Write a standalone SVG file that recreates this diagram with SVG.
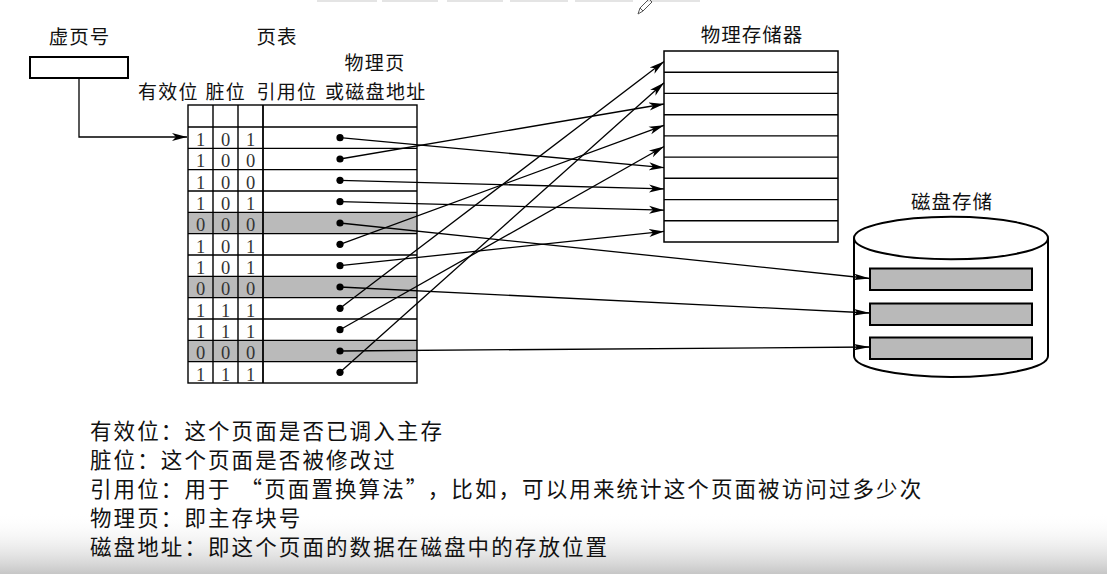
<svg xmlns="http://www.w3.org/2000/svg" width="1107" height="574" viewBox="0 0 1107 574">
<defs>
<style>
.cjk{font-family:"Noto Sans CJK SC","Noto Sans",sans-serif;fill:#111;}
.lbl{font-size:19.5px;letter-spacing:1px;}
.hdr{font-size:19px;letter-spacing:1.3px;}
.leg{font-size:21.5px;letter-spacing:2.1px;}
.dig{font-family:"Liberation Serif",serif;font-size:18.5px;fill:#333;text-anchor:middle;}
.ln{stroke:#000;stroke-width:1.4;fill:none;}
.con{stroke:#000;stroke-width:1.3;fill:none;}
.grey{fill:#bababa;}
.dot{fill:#000;}
</style>
<marker id="ah" markerUnits="userSpaceOnUse" markerWidth="16" markerHeight="10" refX="15" refY="5" orient="auto">
<path d="M0,1 L15,5 L0,9 L4,5 Z" fill="#000"/>
</marker>
<marker id="ahd" markerUnits="userSpaceOnUse" markerWidth="17" markerHeight="10" refX="16" refY="5" orient="auto">
<path d="M0,1.8 L16,5 L0,8.2 L3,5 Z" fill="#000"/>
</marker>
<linearGradient id="fade" x1="0" y1="0" x2="0" y2="1">
<stop offset="0" stop-color="#ffffff" stop-opacity="0"/>
<stop offset="1" stop-color="#c6c6c6" stop-opacity="1"/>
</linearGradient>
</defs>
<rect x="0" y="0" width="1107" height="574" fill="#fff"/>
<rect x="0" y="512" width="1107" height="62" fill="url(#fade)"/>
<g id="toolbar" fill="#e4e4e4">
<rect x="317" y="0" width="60" height="2"/>
<rect x="382" y="0" width="56" height="2"/>
<rect x="447" y="0" width="56" height="2"/>
<rect x="510" y="0" width="58" height="2"/>
<rect x="575" y="0" width="58" height="2"/>
<rect x="647" y="0" width="53" height="2"/>
<path d="M638,14 L640,8 L649,-1 L652,2 L643,11 Z M640,8 L643,11" fill="none" stroke="#555" stroke-width="1"/>
</g>
<g id="virtual-page">
<text class="cjk lbl" x="79.5" y="44" text-anchor="middle">虚页号</text>
<rect x="30" y="57" width="98" height="21" fill="#fff" stroke="#000" stroke-width="2"/>
</g>
<g id="page-table">
<text class="cjk lbl" x="277" y="44" text-anchor="middle">页表</text>
<text class="cjk hdr" x="375" y="70" text-anchor="middle">物理页</text>
<text class="cjk hdr" x="138" y="98.5">有效位</text>
<text class="cjk hdr" x="205.5" y="98.5">脏位</text>
<text class="cjk hdr" x="256.5" y="98.5">引用位</text>
<text class="cjk hdr" x="325" y="98.5">或磁盘地址</text>
<rect class="grey" x="188" y="212.33" width="229" height="21.33"/>
<rect class="grey" x="188" y="276.33" width="229" height="21.33"/>
<rect class="grey" x="188" y="340.33" width="229" height="21.33"/>
<rect class="ln" x="188" y="105" width="229" height="278"/>
<path class="ln" d="M188,127H417 M188,148.33H417 M188,169.67H417 M188,191H417 M188,212.33H417 M188,233.67H417 M188,255H417 M188,276.33H417 M188,297.67H417 M188,319H417 M188,340.33H417 M188,361.67H417 M213,105V383 M238,105V383"/>
<path d="M263,105V383" stroke="#000" stroke-width="1.8"/>
<text class="dig" x="200.5 225.5 250.5" y="146">101</text>
<text class="dig" x="200.5 225.5 250.5" y="167.3">100</text>
<text class="dig" x="200.5 225.5 250.5" y="188.7">100</text>
<text class="dig" x="200.5 225.5 250.5" y="210">101</text>
<text class="dig" x="200.5 225.5 250.5" y="231.3">000</text>
<text class="dig" x="200.5 225.5 250.5" y="252.7">101</text>
<text class="dig" x="200.5 225.5 250.5" y="274">101</text>
<text class="dig" x="200.5 225.5 250.5" y="295.3">000</text>
<text class="dig" x="200.5 225.5 250.5" y="316.7">111</text>
<text class="dig" x="200.5 225.5 250.5" y="338">111</text>
<text class="dig" x="200.5 225.5 250.5" y="359.3">000</text>
<text class="dig" x="200.5 225.5 250.5" y="380.7">111</text>
</g>
<g id="physical-memory">
<text class="cjk lbl" x="752" y="42" text-anchor="middle">物理存储器</text>
<rect x="664" y="51" width="174" height="191" fill="#fff" stroke="#000" stroke-width="1.5"/>
<path class="ln" d="M664,72.2H838 M664,93.4H838 M664,114.7H838 M664,135.9H838 M664,157.1H838 M664,178.3H838 M664,199.6H838 M664,220.8H838"/>
</g>
<g id="disk">
<text class="cjk lbl" x="952" y="209" text-anchor="middle">磁盘存储</text>
<path d="M854,238 V356 A97,21 0 0 0 1048,356 V238" fill="#fff" stroke="#000" stroke-width="2"/>
<ellipse cx="951" cy="238" rx="97" ry="21.3" fill="#fff" stroke="#000" stroke-width="2"/>
<rect x="870" y="268.5" width="162" height="21.5" fill="#b9b9b9" stroke="#000" stroke-width="2"/>
<rect x="870" y="303.5" width="162" height="21.5" fill="#b9b9b9" stroke="#000" stroke-width="2"/>
<rect x="870" y="337.5" width="162" height="21.5" fill="#b9b9b9" stroke="#000" stroke-width="2"/>
</g>
<g id="connectors">
<path class="con" d="M79,78 V137 H187" marker-end="url(#ah)"/>
<line class="con" x1="340" y1="137.7" x2="664" y2="167.7" marker-end="url(#ah)"/>
<line class="con" x1="340" y1="159" x2="664" y2="104" marker-end="url(#ah)"/>
<line class="con" x1="340" y1="180.3" x2="664" y2="188.9" marker-end="url(#ah)"/>
<line class="con" x1="340" y1="201.7" x2="664" y2="210.2" marker-end="url(#ah)"/>
<line class="con" x1="340" y1="244.3" x2="664" y2="125.3" marker-end="url(#ah)"/>
<line class="con" x1="340" y1="265.7" x2="664" y2="231.4" marker-end="url(#ah)"/>
<line class="con" x1="340" y1="308.3" x2="664" y2="61.6" marker-end="url(#ah)"/>
<line class="con" x1="340" y1="329.7" x2="664" y2="146.5" marker-end="url(#ah)"/>
<line class="con" x1="340" y1="372.3" x2="664" y2="82.8" marker-end="url(#ah)"/>
<line class="con" x1="340" y1="223" x2="870" y2="278.5" marker-end="url(#ahd)"/>
<line class="con" x1="340" y1="287" x2="870" y2="313" marker-end="url(#ahd)"/>
<line class="con" x1="340" y1="351" x2="870" y2="347" marker-end="url(#ahd)"/>
</g>
<g id="entry-dots" class="dot">
<circle cx="340" cy="137.7" r="3.6"/>
<circle cx="340" cy="159" r="3.6"/>
<circle cx="340" cy="180.3" r="3.6"/>
<circle cx="340" cy="201.7" r="3.6"/>
<circle cx="340" cy="223" r="3.6"/>
<circle cx="340" cy="244.3" r="3.6"/>
<circle cx="340" cy="265.7" r="3.6"/>
<circle cx="340" cy="287" r="3.6"/>
<circle cx="340" cy="308.3" r="3.6"/>
<circle cx="340" cy="329.7" r="3.6"/>
<circle cx="340" cy="351" r="3.6"/>
<circle cx="340" cy="372.3" r="3.6"/>
</g>
<g id="legend">
<text class="cjk leg" x="90" y="439">有效位：这个页面是否已调入主存</text>
<text class="cjk leg" x="90" y="468">脏位：这个页面是否被修改过</text>
<text class="cjk leg" x="90" y="497">引用位：用于<tspan dx="9">“</tspan>页面置换算法”<tspan dx="9">，</tspan>比如，可以用来统计这个页面被访问过多少次</text>
<text class="cjk leg" x="90" y="526">物理页：即主存块号</text>
<text class="cjk leg" x="90" y="555">磁盘地址：即这个页面的数据在磁盘中的存放位置</text>
</g>
</svg>
